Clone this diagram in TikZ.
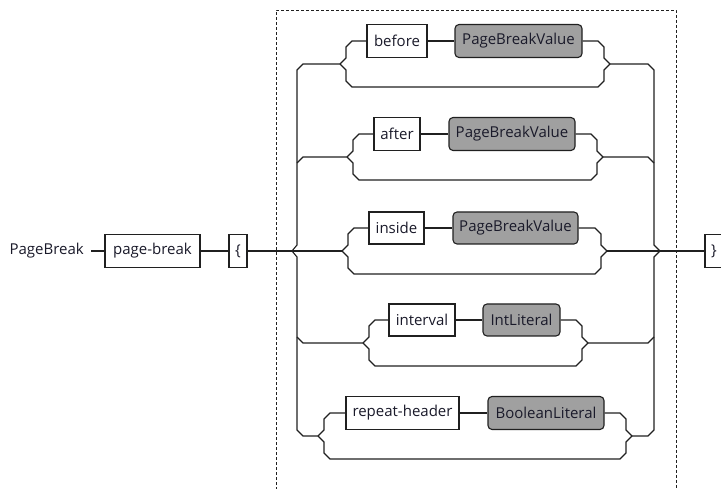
\documentclass[tikz,border=0pt]{standalone}
\usepackage{fontspec}
\setmainfont{Open Sans}
\definecolor{boxgray}{HTML}{A0A0A0}
\definecolor{ink}{HTML}{202020}
\definecolor{txt}{HTML}{1A1A2A}
\newcommand\railgrp[5]{%
 \draw[wire] (#2,#1) -- ({#2+6},{#1-6}) -- ({#2+6},{#1-17}) -- ({#2+12},{#1-23}) -- (#4.west);
 \draw[wire] (#4.east) -- (#5.west);
 \draw[wire] (#5.east) -- ({#3-12},{#1-23}) -- ({#3-6},{#1-17}) -- ({#3-6},{#1-6}) -- (#3,#1);
 \draw[wire] (#2,#1) -- ({#2+6},{#1+6}) -- ({#2+6},{#1+17}) -- ({#2+12},{#1+23}) -- ({#3-12},{#1+23}) -- ({#3-6},{#1+17}) -- ({#3-6},{#1+6}) -- (#3,#1);
}
\begin{document}
\begin{tikzpicture}[x=1pt,y=-1pt,
  wire/.style={draw=ink, line width=1.1pt},
  term/.style={draw=ink, line width=1.1pt, fill=white, inner sep=0pt, text=txt, font=\fontsize{15}{17}\selectfont},
  nonterm/.style={term, fill=boxgray, rounded corners=4pt},
  frame/.style={draw=ink, line width=0.9pt, dash pattern=on 3pt off 2pt}]
\useasboundingbox (0,0) rectangle (721,489);
\clip (0,0) rectangle (721,489);

% frame
\draw[frame] (276,495) -- (276,10) -- (676,10) -- (676,495);

% start
\node[anchor=east, inner sep=0pt, text=txt, font=\fontsize{15}{17}\selectfont] (lbl) at (84,251) {PageBreak};
\node[term, minimum width=95pt, minimum height=33pt] (pb) at (152.5,251) {page-break};
\node[term, minimum width=18pt, minimum height=33pt] (ob) at (238,251) {\{};
\node[term, minimum width=18pt, minimum height=33pt] (cb) at (714,251) {\}};
\draw[wire, shorten <=7pt] (lbl.east) -- (pb.west);
\draw[wire] (pb.east) -- (ob.west);

% group boxes
\node[term, minimum width=60pt, minimum height=33pt] (t1) at (397,41) {before};
\node[nonterm, minimum width=127pt, minimum height=33pt] (n1) at (518.5,41) {PageBreakValue};
\node[term, minimum width=46pt, minimum height=33pt] (t2) at (397,134) {after};
\node[nonterm, minimum width=126pt, minimum height=33pt] (n2) at (512,134) {PageBreakValue};
\node[term, minimum width=55pt, minimum height=32pt] (t3) at (396.5,228) {inside};
\node[nonterm, minimum width=125pt, minimum height=32pt] (n3) at (515.5,228) {PageBreakValue};
\node[term, minimum width=66pt, minimum height=32pt] (t4) at (422,320) {interval};
\node[nonterm, minimum width=77pt, minimum height=32pt] (n4) at (521.5,320) {IntLiteral};
\node[term, minimum width=113pt, minimum height=33pt] (t5) at (402.5,413) {repeat-header};
\node[nonterm, minimum width=116pt, minimum height=33pt] (n5) at (546,413) {BooleanLiteral};

% group brackets
\railgrp{64}{340}{610}{t1}{n1}
\railgrp{157}{347}{603}{t2}{n2}
\railgrp{251}{342}{607}{t3}{n3}
\railgrp{343}{363}{588}{t4}{n4}
\railgrp{436}{318}{632}{t5}{n5}

\coordinate (g1l) at (340,64);  \coordinate (g1r) at (610,64);
\coordinate (g2l) at (347,157); \coordinate (g2r) at (603,157);
\coordinate (g3l) at (342,251); \coordinate (g3r) at (607,251);
\coordinate (g4l) at (363,343); \coordinate (g4r) at (588,343);
\coordinate (g5l) at (318,436); \coordinate (g5r) at (632,436);

% left bus
\draw[wire] (g1l) -- (303,64) -- (297,70) -- (297,245) -- (292,251) -- (297,257) -- (297,430) -- (303,436) -- (g5l);
\draw[wire] (297,163) -- (303,157) -- (g2l);
\draw[wire] (ob.east) -- (g3l);
\draw[wire] (297,337) -- (303,343) -- (g4l);

% right bus
\draw[wire] (g1r) -- (648,64) -- (654,70) -- (654,245) -- (660,251) -- (654,257) -- (654,430) -- (648,436) -- (g5r);
\draw[wire] (g2r) -- (648,157) -- (654,163);
\draw[wire] (g3r) -- (cb.west);
\draw[wire] (g4r) -- (648,343) -- (654,337);
\end{tikzpicture}
\end{document}
